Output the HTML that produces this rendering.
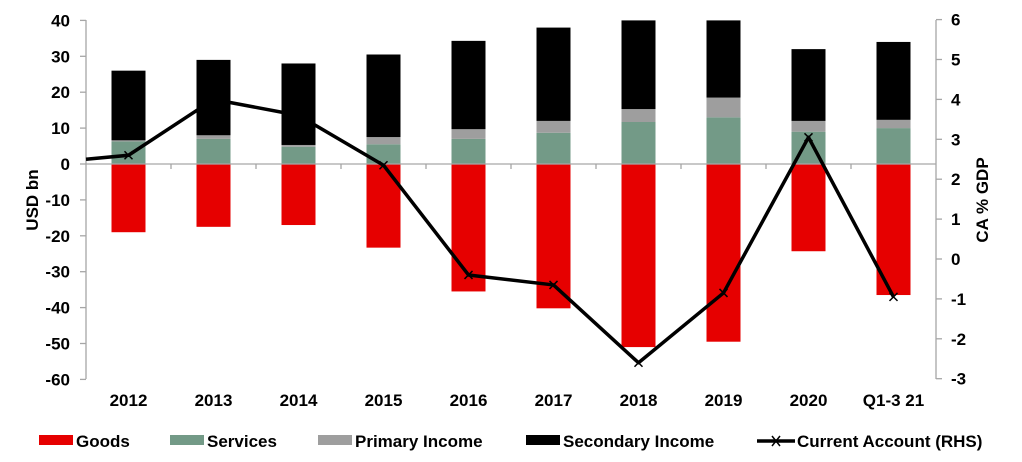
<!DOCTYPE html>
<html><head><meta charset="utf-8"><style>
body{margin:0;background:#fff}
svg text{font-family:"Liberation Sans",Arial,sans-serif;font-weight:bold;fill:#000}
</style></head><body>
<svg width="1022" height="457" viewBox="0 0 1022 457" xmlns="http://www.w3.org/2000/svg">
<g id="bars"></g>
<g stroke="#a6a6a6" stroke-width="1.3" fill="none">
<line x1="86" y1="20" x2="86" y2="379"/>
<line x1="936" y1="20" x2="936" y2="379"/>
<line x1="86" y1="164" x2="936" y2="164"/>
</g>
<g id="ticks" stroke="#a6a6a6" stroke-width="1.3"></g>
<g id="labels" font-size="17"></g>
<polyline id="ca" fill="none" stroke="#000" stroke-width="3.5" stroke-linejoin="round"/>
<g id="marks" stroke="#000" stroke-width="1.5"></g>
<text x="32" y="200" font-size="17" text-anchor="middle" transform="rotate(-90 32 200)" dy="6">USD bn</text>
<text x="982" y="200" font-size="17" text-anchor="middle" transform="rotate(-90 982 200)" dy="6">CA % GDP</text>
<g font-size="17">
<rect x="39" y="435" width="34" height="10" fill="#e60000"/><text x="76" y="447">Goods</text>
<rect x="170" y="435" width="34" height="10" fill="#739a87"/><text x="207" y="447">Services</text>
<rect x="318" y="435" width="34" height="10" fill="#9e9e9e"/><text x="355" y="447">Primary Income</text>
<rect x="526" y="435" width="34" height="10" fill="#000"/><text x="563" y="447">Secondary Income</text>
<line x1="757" y1="441" x2="795" y2="441" stroke="#000" stroke-width="3.5"/>
<path d="M772 436 L780 446 M780 436 L772 446" stroke="#000" stroke-width="1.5"/>
<text x="797" y="447">Current Account (RHS)</text>
</g>
</svg>
<script>
const NS="http://www.w3.org/2000/svg";
const yL=v=>164-v*3.59, yR=v=>259-v*39.9;
const cats=["2012","2013","2014","2015","2016","2017","2018","2019","2020","Q1-3 21"];
const d=[[-19,6.3,6.6,26],[-17.5,7,8,29],[-17,4.8,5.3,28],[-23.3,5.5,7.5,30.5],[-35.5,7,9.7,34.3],[-40.2,8.7,12,38],[-51,11.7,15.3,40],[-49.5,13,18.5,40],[-24.3,9,12,32],[-36.5,10,12.3,34]];
const ca=[2.6,4.0,3.6,2.35,-0.4,-0.65,-2.6,-0.85,3.05,-0.95];
const bars=document.getElementById("bars"),lab=document.getElementById("labels"),tk=document.getElementById("ticks"),mk=document.getElementById("marks");
function r(x,y1,y2,c){const e=document.createElementNS(NS,"rect");e.setAttribute("x",x);e.setAttribute("y",Math.min(y1,y2));e.setAttribute("width",34);e.setAttribute("height",Math.abs(y2-y1));e.setAttribute("fill",c);bars.appendChild(e);}
function t(x,y,s,a){const e=document.createElementNS(NS,"text");e.setAttribute("x",x);e.setAttribute("y",y);e.setAttribute("text-anchor",a);e.textContent=s;lab.appendChild(e);}
function l(x1,y1,x2,y2,p){const e=document.createElementNS(NS,"line");e.setAttribute("x1",x1);e.setAttribute("y1",y1);e.setAttribute("x2",x2);e.setAttribute("y2",y2);p.appendChild(e);}
let pts=["86,"+yR(2.5)];
cats.forEach((c,i)=>{const cx=86+42.5+85*i,x=cx-17,v=d[i];
r(x,yL(0),yL(v[0]),"#e60000");r(x,yL(0),yL(v[1]),"#739a87");r(x,yL(v[1]),yL(v[2]),"#9e9e9e");r(x,yL(v[2]),yL(v[3]),"#000");
t(cx,406,c,"middle");pts.push(cx+","+yR(ca[i]));
const y=yR(ca[i]);l(cx-4,y-4,cx+4,y+4,mk);l(cx-4,y+4,cx+4,y-4,mk);
if(i>0)l(86+85*i,164,86+85*i,169,tk);});
document.getElementById("ca").setAttribute("points",pts.join(" "));
for(let v=40;v>=-60;v-=10){const y=yL(v);l(80,y,86,y,tk);t(70,y+6,v,"end");}
for(let v=6;v>=-3;v--){const y=yR(v);l(936,y,942,y,tk);t(951,y+6,v,"start");}
</script>
</body></html>
